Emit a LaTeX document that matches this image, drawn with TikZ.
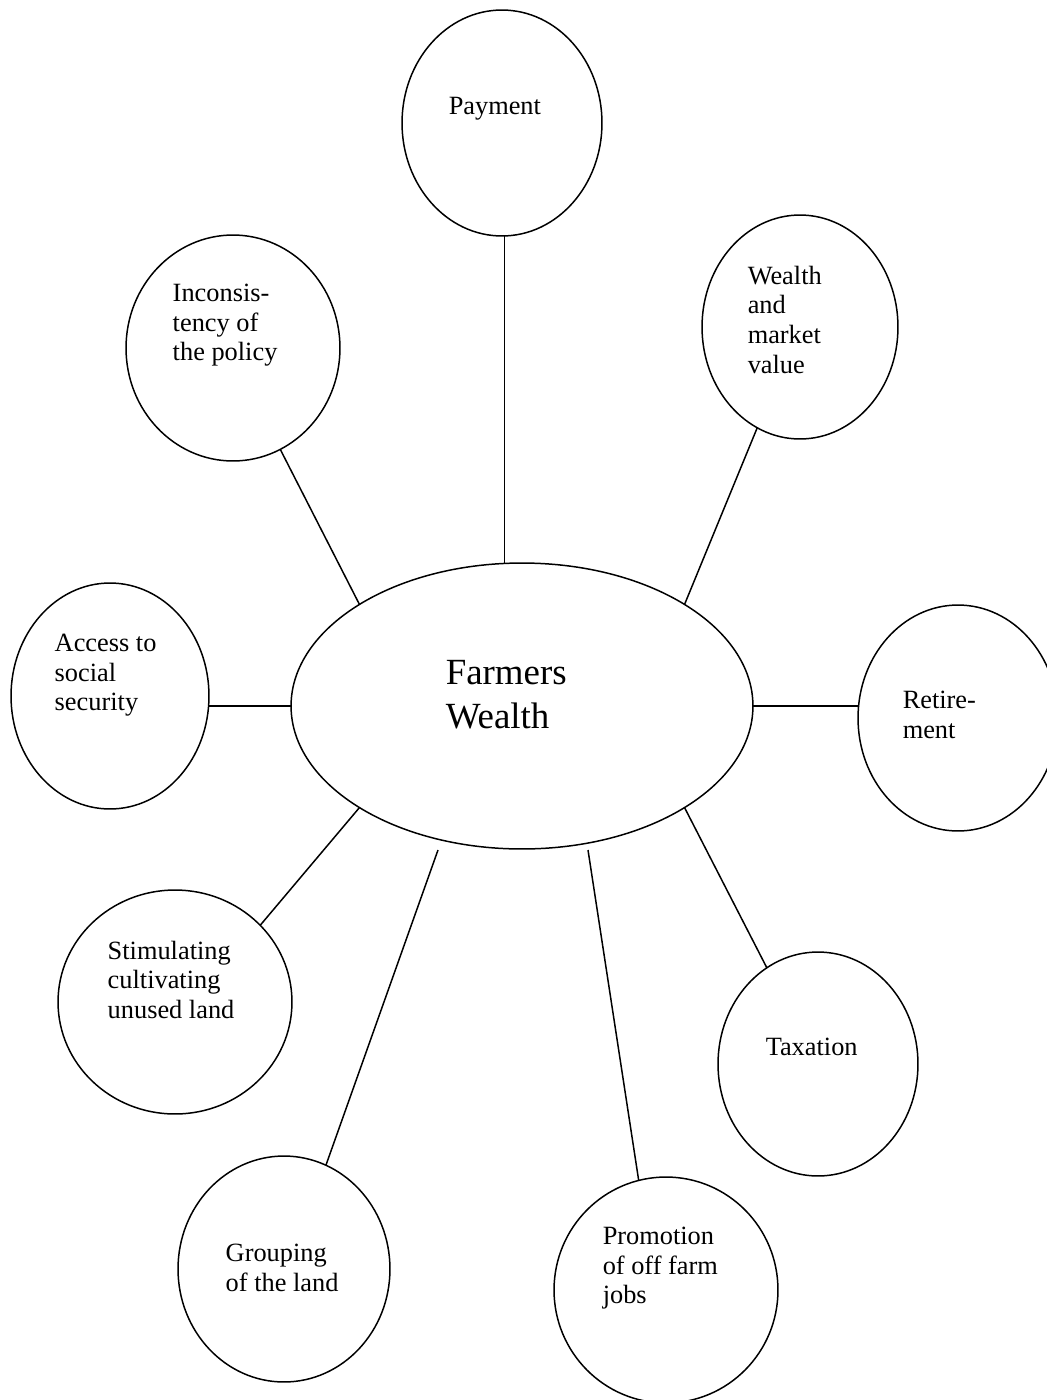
\documentclass[tikz,border=0pt]{standalone}
\usepackage{fontspec}
\setmainfont{Liberation Serif}
\usetikzlibrary{shapes.geometric}

\begin{document}
\begin{tikzpicture}[x=0.02cm, y=-0.02cm, line width=0.85pt]
    \tikzstyle{hub} = [ellipse, draw, inner sep=0pt, outer sep=0pt, minimum width=9.24cm, minimum height=5.72cm]
    \tikzstyle{bubble} = [ellipse, draw, inner sep=0pt, outer sep=0pt, minimum width=4cm, minimum height=4.52cm]
    \tikzstyle{bubbletext} = [anchor=north west, align=left, inner sep=0pt, font=\fontsize{15}{17}\selectfont]
    \tikzstyle{hubtext} = [anchor=north west, align=left, inner sep=0pt, font=\fontsize{21}{24.6}\selectfont]

    \useasboundingbox (0,0) rectangle (1047,1400);

    \node [hub] (farmers) at (522,706) {};
    \node [bubble] (payment) at (502,123) {};
    \node [bubble, minimum width=4.28cm] (policy) at (233,348) {};
    \node [bubble, minimum width=3.92cm, minimum height=4.48cm] (market) at (800,327) {};
    \node [bubble, minimum width=3.96cm] (social) at (110,696) {};
    \node [bubble] (retirement) at (958,718) {};
    \node [bubble, minimum width=4.68cm, minimum height=4.48cm] (unused) at (175,1002) {};
    \node [bubble, minimum height=4.48cm] (taxation) at (818,1064) {};
    \node [bubble, minimum width=4.24cm] (grouping) at (284,1269) {};
    \node [bubble, minimum width=4.48cm] (offfarm) at (666,1290) {};

    \node [hubtext] (farmers-t) at (445,660) {Farmers\\Wealth};
    \node [bubbletext] (payment-t) at (448,96) {Payment};
    \node [bubbletext] (policy-t) at (172,283) {Inconsis-\\tency of\\the policy};
    \node [bubbletext] (market-t) at (747,265) {Wealth\\and\\market\\value};
    \node [bubbletext] (social-t) at (54,633) {Access to\\social\\security};
    \node [bubbletext] (retirement-t) at (902,690) {Retire-\\ment};
    \node [bubbletext] (unused-t) at (107,940) {Stimulating\\cultivating\\unused land};
    \node [bubbletext] (taxation-t) at (765,1037) {Taxation};
    \node [bubbletext] (grouping-t) at (225,1243) {Grouping\\of the land};
    \node [bubbletext] (offfarm-t) at (602,1226) {Promotion\\of off farm\\jobs};

    \coordinate (grouping-end) at (438,850);
    \coordinate (offfarm-end) at (588,850);

    \draw (farmers.97) -- (farmers.97 |- payment.south);
    \draw (policy.295) -- (farmers.148);
    \draw (market.247) -- (farmers.32);
    \draw (farmers.west) -- (farmers.west -| social.east);
    \draw (farmers.east) -- (farmers.east -| retirement.west);
    \draw (unused.42) -- (farmers.212);
    \draw (taxation.118) -- (farmers.328);
    \draw (grouping.68) -- (grouping-end);
    \draw (offfarm.104) -- (offfarm-end);
\end{tikzpicture}
\end{document}
